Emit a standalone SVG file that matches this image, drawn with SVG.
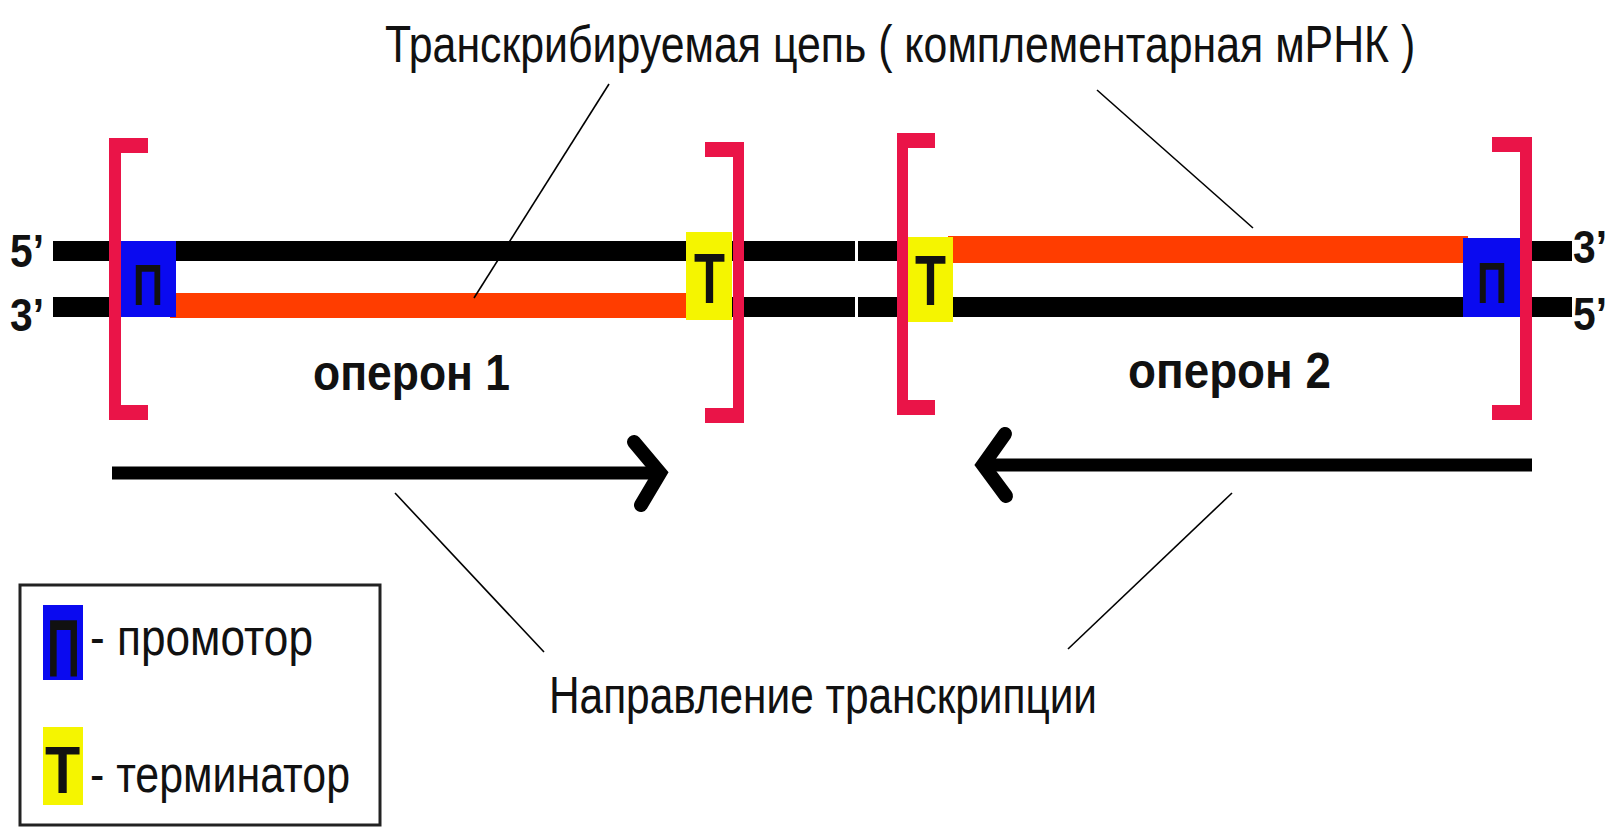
<svg xmlns="http://www.w3.org/2000/svg" width="1610" height="829" viewBox="0 0 1610 829">
<style>
.strand{fill:#000}
.rna{fill:#FF3D00}
.prom{fill:#0A0AF0}
.term{fill:#F5F500}
.br{fill:#EA1448}
.lbl{font-family:"Liberation Sans",Arial,sans-serif;fill:#111}
.b{font-weight:bold}
.lead{stroke:#000;stroke-width:1.6;fill:none}
.arr{stroke:#000;stroke-width:13;fill:none}
.head{stroke:#000;stroke-width:14;fill:none;stroke-linecap:round;stroke-linejoin:miter}
</style>
<rect width="1610" height="829" fill="#fff"/>

<g id="dna">
  <rect class="strand" x="53" y="241" width="802" height="20"/>
  <rect class="strand" x="858" y="241" width="714" height="20"/>
  <rect class="strand" x="53" y="297" width="802" height="20"/>
  <rect class="strand" x="858" y="297" width="714" height="20"/>
  <rect class="rna" x="170" y="293" width="520" height="25"/>
  <rect class="rna" x="948" y="236" width="520" height="27"/>
</g>

<g id="promoter1">
  <rect class="prom" x="121" y="241" width="55" height="76"/>
  <text class="lbl b" x="133" y="305" font-size="58" textLength="30" lengthAdjust="spacingAndGlyphs" fill="#000">П</text>
</g>
<g id="terminator1">
  <rect class="term" x="686" y="232" width="46" height="88"/>
  <text class="lbl b" x="694" y="303" font-size="70" textLength="31" lengthAdjust="spacingAndGlyphs" fill="#000">Т</text>
</g>
<g id="terminator2">
  <rect class="term" x="908" y="237" width="45" height="85"/>
  <text class="lbl b" x="915" y="305" font-size="70" textLength="31" lengthAdjust="spacingAndGlyphs" fill="#000">Т</text>
</g>
<g id="promoter2">
  <rect class="prom" x="1463" y="238" width="57" height="79"/>
  <text class="lbl b" x="1477" y="303" font-size="58" textLength="30" lengthAdjust="spacingAndGlyphs" fill="#000">П</text>
</g>

<g id="bracket1">
  <path class="br" d="M109 138H148V153H121V405H148V420H109Z"/>
</g>
<g id="bracket2">
  <path class="br" d="M744 142H705V157H733V408H705V423H744Z"/>
</g>
<g id="bracket3">
  <path class="br" d="M897 133H935V148H908V400H935V415H897Z"/>
</g>
<g id="bracket4">
  <path class="br" d="M1532 137H1492V152H1520V405H1492V420H1532Z"/>
</g>

<g id="end-labels">
  <text class="lbl b" x="10" y="267" font-size="46" textLength="34" lengthAdjust="spacingAndGlyphs">5’</text>
  <text class="lbl b" x="10" y="331" font-size="46" textLength="34" lengthAdjust="spacingAndGlyphs">3’</text>
  <text class="lbl b" x="1573" y="263" font-size="46" textLength="34" lengthAdjust="spacingAndGlyphs">3’</text>
  <text class="lbl b" x="1573" y="330" font-size="46" textLength="34" lengthAdjust="spacingAndGlyphs">5’</text>
</g>

<g id="operon1-label">
  <text class="lbl b" x="313" y="390" font-size="50" textLength="197" lengthAdjust="spacingAndGlyphs">оперон 1</text>
</g>
<g id="operon2-label">
  <text class="lbl b" x="1128" y="388" font-size="50" textLength="203" lengthAdjust="spacingAndGlyphs">оперон 2</text>
</g>

<g id="title">
  <text class="lbl" transform="translate(385 62) scale(0.85 1)" x="0" y="0" font-size="52" textLength="1212" lengthAdjust="spacingAndGlyphs">Транскрибируемая цепь ( комплементарная мРНК )</text>
</g>
<g id="direction-label">
  <text class="lbl" x="549" y="713" font-size="52" textLength="548" lengthAdjust="spacingAndGlyphs">Направление транскрипции</text>
</g>

<g id="legend">
  <rect x="20" y="585" width="360" height="240" fill="none" stroke="#222" stroke-width="3"/>
  <rect class="prom" x="43" y="605" width="40" height="75"/>
  <text class="lbl b" transform="translate(47 677) scale(0.56 1)" font-size="82" fill="#000">П</text>
  <text class="lbl" x="90" y="655" font-size="52" textLength="223" lengthAdjust="spacingAndGlyphs">- промотор</text>
  <rect class="term" x="43" y="727" width="40" height="78"/>
  <text class="lbl b" transform="translate(45 793) scale(0.86 1)" font-size="67" fill="#000">Т</text>
  <text class="lbl" x="90" y="792" font-size="52" textLength="260" lengthAdjust="spacingAndGlyphs">- терминатор</text>
</g>

<g id="connectors">
  <line class="lead" x1="609" y1="84" x2="474" y2="298"/>
  <line class="lead" x1="1097" y1="90" x2="1253" y2="228"/>
  <line class="lead" x1="395" y1="493" x2="544" y2="652"/>
  <line class="lead" x1="1232" y1="493" x2="1068" y2="649"/>
  <line class="arr" x1="112" y1="473" x2="658" y2="473"/>
  <path class="head" d="M634 442L660 473L641 505"/>
  <line class="arr" x1="986" y1="465" x2="1532" y2="465"/>
  <path class="head" d="M1005 434L983 465L1006 496"/>
</g>
</svg>
